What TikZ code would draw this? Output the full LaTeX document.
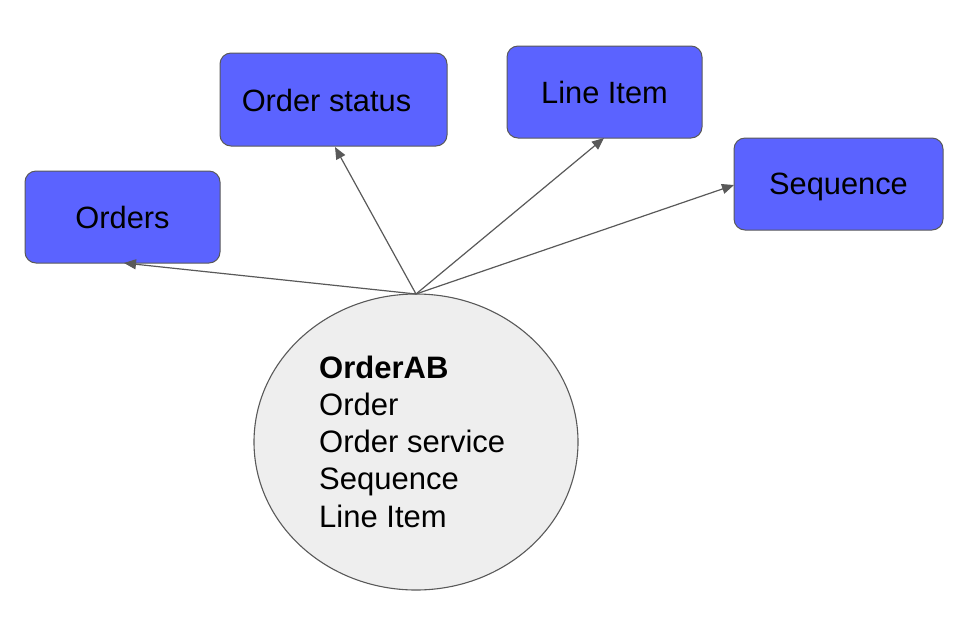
\documentclass[tikz,border=0pt]{standalone}
\usepackage{fontspec}
\setmainfont{Liberation Sans}
\usetikzlibrary{arrows.meta,shapes.geometric}
\definecolor{boxblue}{HTML}{5B63FF}
\definecolor{edgegrey}{HTML}{595959}
\definecolor{ellfill}{HTML}{EEEEEE}
\begin{document}
\begin{tikzpicture}[x=1pt,y=-1pt,
  box/.style={draw=edgegrey,line width=1pt,fill=boxblue,rounded corners=11pt,inner sep=0pt,text depth=0pt,font=\fontsize{30.8}{36}\selectfont},
  link/.style={draw=edgegrey,line width=1.2pt,-{Triangle[length=12pt,width=10pt]}},
  lbl/.style={inner sep=0pt,font=\fontsize{30.8}{36}\selectfont}]
\useasboundingbox (0,0) rectangle (963,630);
\node[box,minimum width=195pt,minimum height=92pt] (orders) at (122.5,217) {Orders};
\node[box,minimum width=227pt,minimum height=93pt] (status) at (333.5,99.5) {};
\node[lbl] (statustext) at (326.5,100) {Order status};
\node[box,minimum width=195pt,minimum height=92pt] (lineitem) at (604.5,92) {Line Item};
\node[box,minimum width=209pt,minimum height=92pt] (sequence) at (838.5,184) {Sequence};
\node[draw=edgegrey,line width=1.1pt,fill=ellfill,ellipse,minimum width=324pt,minimum height=296pt,inner sep=0pt] (orderab) at (416,442) {};
\node[lbl,anchor=base west,align=left,font=\fontsize{31}{37.25}\selectfont] (content) at (319,527)
  {\textbf{OrderAB}\\Order\\Order service\\Sequence\\Line Item};
\coordinate (top) at (416,294);
\coordinate (e1) at (124,263);
\coordinate (e2) at (335,147);
\coordinate (e3) at (604,138);
\coordinate (e4) at (734,185);
\draw[link] (top) -- (e1);
\draw[link] (top) -- (e2);
\draw[link] (top) -- (e3);
\draw[link] (top) -- (e4);
\end{tikzpicture}
\end{document}
